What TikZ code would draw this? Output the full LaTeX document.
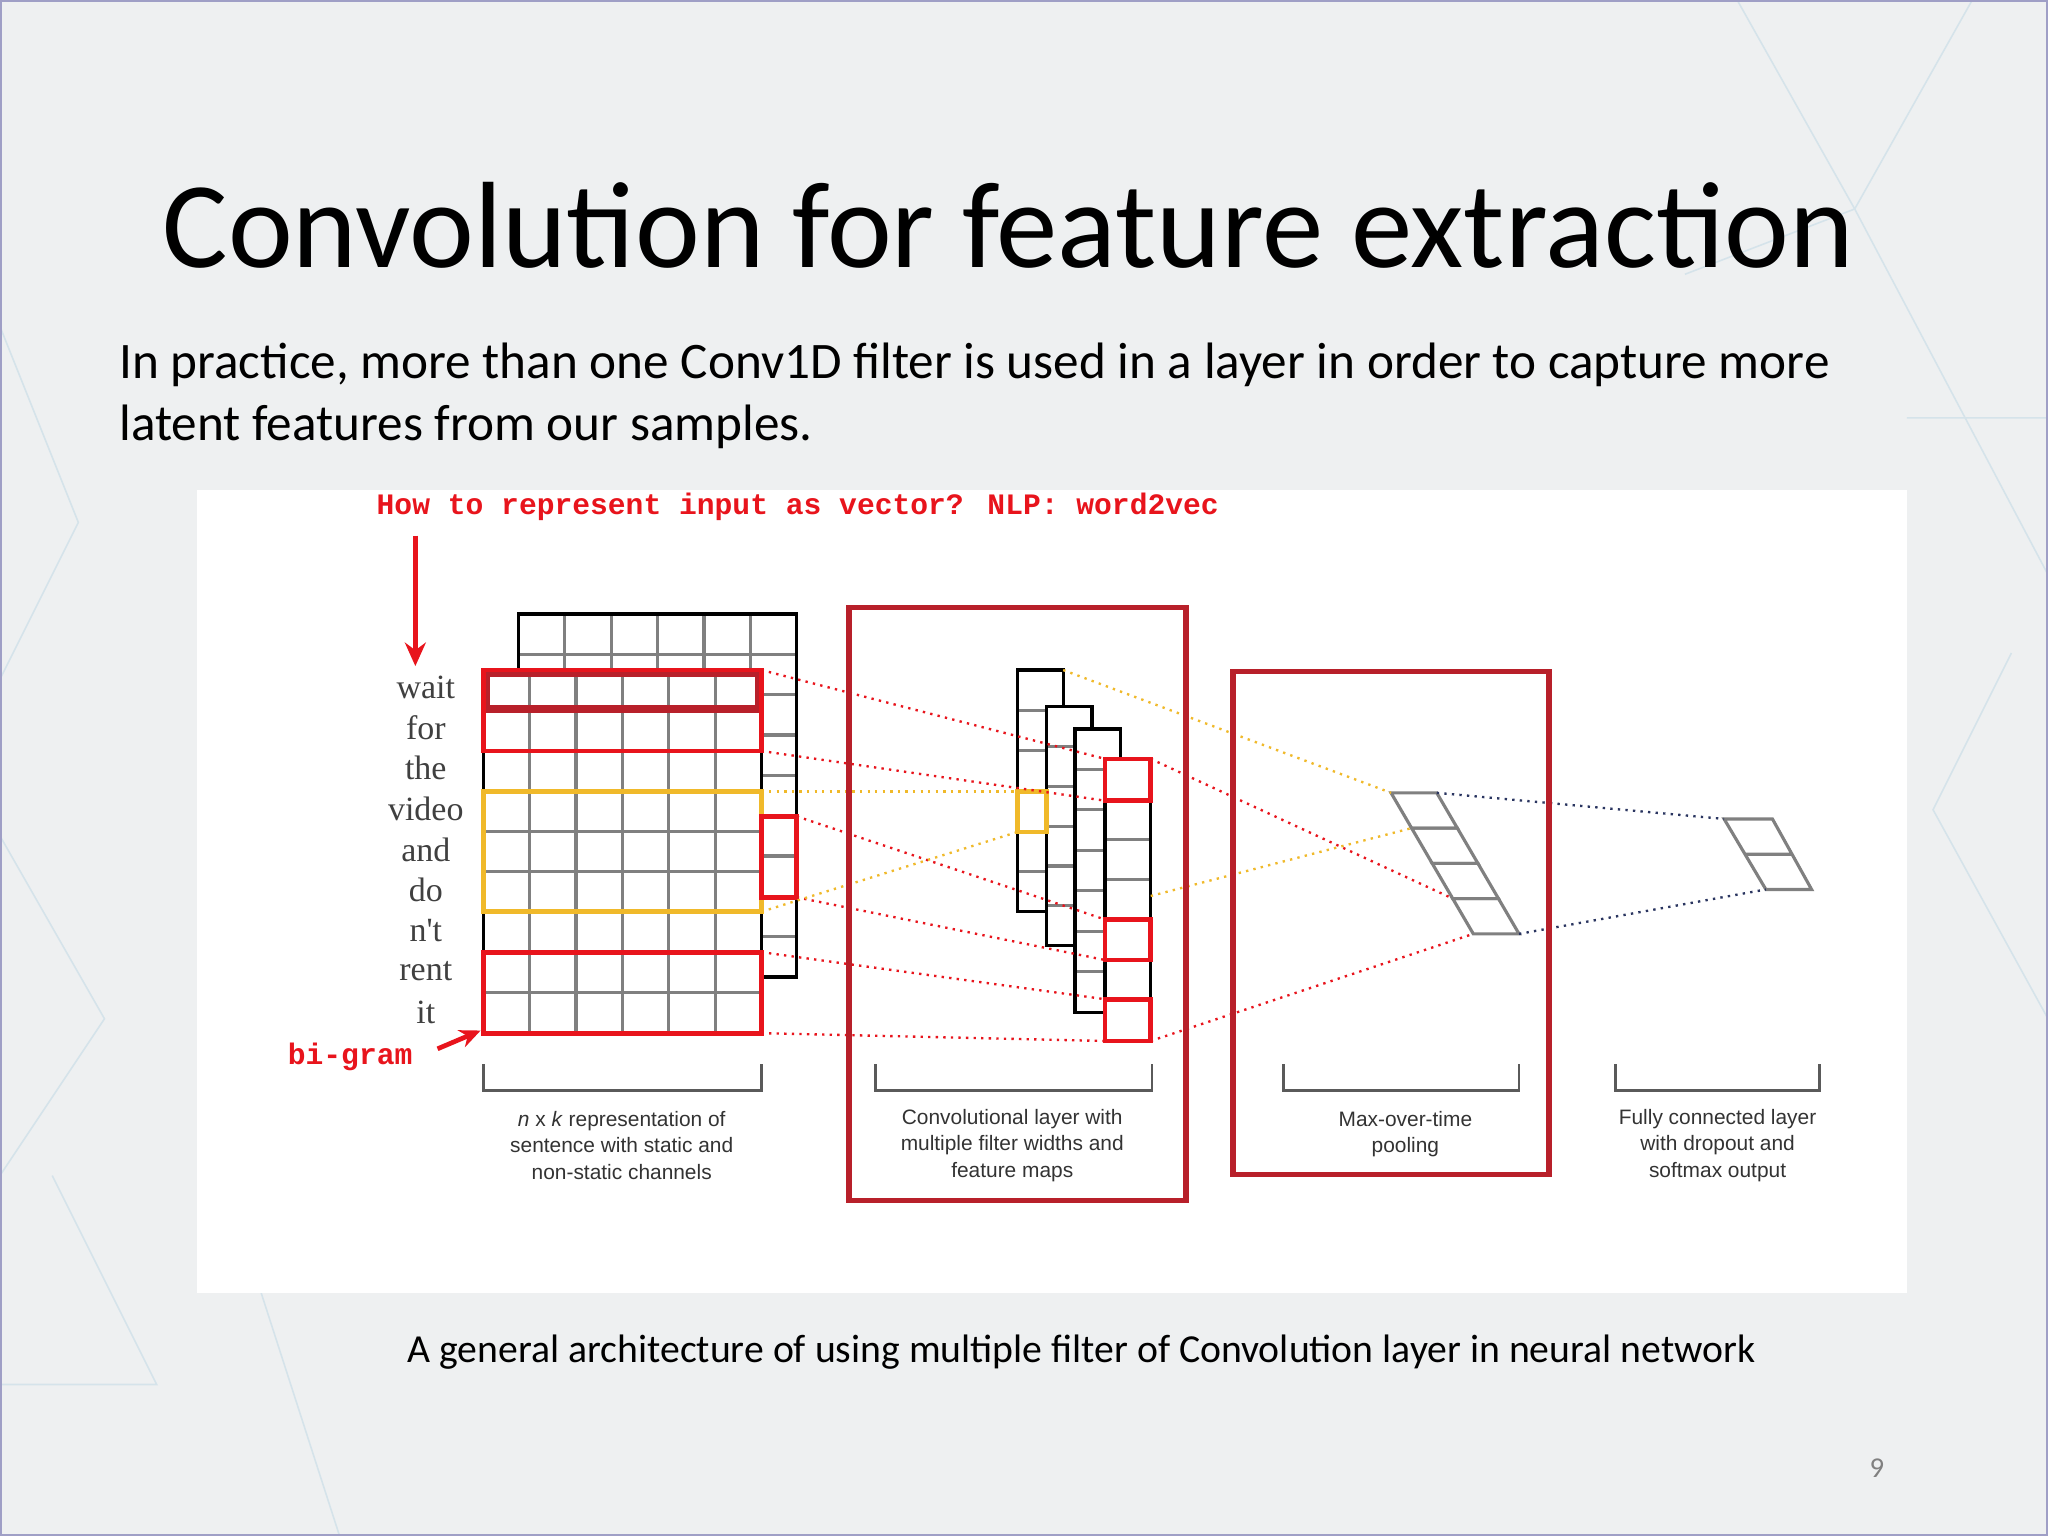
\documentclass[tikz,border=0pt]{standalone}
\usepackage{fontspec}
\usetikzlibrary{arrows.meta}
\setmainfont{Carlito}
\newfontfamily\lsans{Liberation Sans}
\newfontfamily\lserif{Liberation Serif}
\newfontfamily\lmono{Liberation Mono}
\definecolor{bg}{HTML}{EEF0F1}
\definecolor{dred}{HTML}{B8202A}
\definecolor{rred}{HTML}{E8141C}
\definecolor{yel}{HTML}{F0B92A}
\definecolor{navy}{HTML}{2A3560}
\definecolor{gline}{HTML}{808080}
\definecolor{tri}{HTML}{D5E3EA}
\tikzset{
 grid/.style={gline,line width=1.2pt},
 blk/.style={black,line width=1.3pt},
 redbox/.style={rred,line width=1.8pt},
 bigbox/.style={dred,line width=2pt},
 rdot/.style={rred,dotted,line width=0.9pt},
 ydot/.style={yel,dotted,line width=0.9pt},
 ndot/.style={navy,dotted,line width=0.9pt},
 brk/.style={gline!70!black,line width=1.1pt},
 lab/.style={font=\lsans\fontsize{8}{10}\selectfont,text=black!80,align=center},
 word/.style={font=\lserif\fontsize{13}{14}\selectfont,text=black!75},
}
\begin{document}
\begin{tikzpicture}[x=0.5pt,y=-0.5pt]
\useasboundingbox (0,0) rectangle (1568,1176);
\fill[bg] (0,0) rectangle (1568,1176);
\begin{scope}[tri,line width=0.6pt]
\draw (1330,0)--(1420,160)--(1510,0) (1290,210)--(1420,160)--(1568,440) (1460,320)--(1568,320) (1540,500)--(1480,620)--(1568,780);
\draw (0,250)--(60,400)--(0,520) (0,640)--(80,780)--(0,900) (40,900)--(120,1060)--(0,1060) (200,990)--(260,1176);
\end{scope}
\draw[blue!25!gray!60,line width=0.8pt] (0.5,0.5) rectangle (1567.5,1175.5);
\fill[white] (151,375) rectangle (1460,990);

\node[anchor=base,inner sep=0,font=\fontsize{47}{52}\selectfont] (title) at (772,205) {Convolution for feature extraction};
\node[anchor=base west,inner sep=0,font=\fontsize{19.6}{24}\selectfont] (l1) at (91,290) {In practice, more than one Conv1D filter is used in a layer in order to capture more};
\node[anchor=base west,inner sep=0,font=\fontsize{19.6}{24}\selectfont] (l2) at (91,337) {latent features from our samples.};
\node[anchor=base,inner sep=0,font=\fontsize{15.2}{18}\selectfont] (cap) at (828,1043) {A general architecture of using multiple filter of Convolution layer in neural network};
\node[anchor=base,font=\fontsize{11}{12}\selectfont,text=gray] (pg) at (1437,1131) {9};

% back grid
\fill[white] (397,470) rectangle (610,748);
\foreach \i in {1,...,5} \draw[grid] (397+35.5*\i,470)--(397+35.5*\i,513);
\foreach \r in {1,...,8} \draw[grid] (397,470+30.9*\r)--(610,470+30.9*\r);
\draw[blk] (397,513)--(397,470)--(610,470)--(610,748)--(583,748);
% front grid
\fill[white] (370,513) rectangle (583,791);
\foreach \i in {1,...,5} \draw[grid] (370+35.5*\i,513)--(370+35.5*\i,791);
\foreach \r in {1,...,8} \draw[grid] (370,513+30.9*\r)--(583,513+30.9*\r);
\draw[blk] (370,513) rectangle (583,791);
% highlight boxes
\draw[dred,line width=3pt] (372,515) rectangle (581,543);
\draw[redbox] (370,513) rectangle (583,575);
\draw[yel,line width=1.8pt] (370,606) rectangle (583,698);
\draw[redbox] (370,729) rectangle (583,791);
\draw[redbox] (583,625) rectangle (610,687);
\coordinate (a1) at (583,513); \coordinate (a2) at (583,575); \coordinate (a3) at (610,625);
\coordinate (a4) at (610,687); \coordinate (a5) at (583,729); \coordinate (a6) at (583,791);
\coordinate (y1) at (583,606); \coordinate (y2) at (583,698);

% words
\foreach \w [count=\k] in {wait,for,the,video,and,do,n't,rent,it}
  \node[word] (w\k) at (326,526+31.1*\k-31.1) {\w};

% annotations
\node[anchor=base west,inner sep=0,font=\lmono\bfseries\fontsize{11.35}{12}\selectfont,text=rred] (ann) at (288,394) {How to represent input as vector? NLP: word2vec};
\coordinate (ar1) at (318,410); \coordinate (ar2) at (318,510);
\draw[rred,line width=1.8pt,-{Stealth[length=9pt,width=8pt]}] (ar1)--(ar2);
\node[anchor=base west,inner sep=0,font=\lmono\bfseries\fontsize{11.35}{12}\selectfont,text=rred] (bg) at (220,815) {bi-gram};
\coordinate (br1) at (335,803); \coordinate (br2) at (368,789);
\draw[rred,line width=1.8pt,-{Stealth[length=8pt,width=7pt]}] (br1)--(br2);

% feature maps
\foreach \x/\t/\b/\n in {779/513/698/6,801/541/724/6,823/558/775/7}{
  \fill[white] (\x,\t) rectangle (\x+35,\b);
  \foreach \r in {1,...,\n} \pgfmathsetmacro{\yy}{\t+(\b-\t)/(\n)*\r} \draw[grid] (\x,\yy)--(\x+22,\yy);
  \draw[blk] (\x,\t) rectangle (\x+35,\b);
}
\fill[white] (846,581) rectangle (881,797);
\foreach \r in {1,...,6} \draw[grid] (846,581+30.86*\r)--(881,581+30.86*\r);
\draw[blk] (846,581) rectangle (881,797);
\draw[redbox] (846,581) rectangle (881,613);
\draw[redbox] (846,704) rectangle (881,735);
\draw[redbox] (846,765) rectangle (881,797);
\draw[yel,line width=1.8pt] (779,606) rectangle (801,637);
\coordinate (f1) at (846,581); \coordinate (f2) at (846,613); \coordinate (f3) at (846,704);
\coordinate (f4) at (846,735); \coordinate (f5) at (846,765); \coordinate (f6) at (846,797);
\coordinate (fy1) at (779,606); \coordinate (fy2) at (779,637);
\draw[rdot] (a1)--(f1); \draw[rdot] (a2)--(f2); \draw[rdot] (a3)--(f3);
\draw[rdot] (a4)--(f4); \draw[rdot] (a5)--(f5); \draw[rdot] (a6)--(f6);
\draw[ydot] (y1)--(fy1); \draw[ydot] (y2)--(fy2);

% pooling
\foreach \r in {0,...,3}
  \draw[grid] (1065+15.75*\r,607+27*\r) -- (1100+15.75*\r,607+27*\r) -- (1115.75+15.75*\r,634+27*\r) -- (1080.75+15.75*\r,634+27*\r) -- cycle;
\coordinate (p0) at (1065,607); \coordinate (p1) at (1080.75,634); \coordinate (p3) at (1112.25,688);
\coordinate (p4) at (1128,715); \coordinate (pt) at (1100,607); \coordinate (pb) at (1163,715);
\draw[ydot] (814,513)--(p0); \draw[ydot] (881,686)--(p1);
\draw[rdot] (881,581)--(p3); \draw[rdot] (881,797)--(p4);
% output
\draw[grid] (1320,627)--(1357,627)--(1387,681)--(1352,681)--cycle (1336,654)--(1372,654);
\draw[ndot] (pt)--(1320,627); \draw[ndot] (pb)--(1352,681);

% big boxes
\draw[bigbox] (650,465) rectangle (908,919);
\draw[bigbox] (944,514) rectangle (1186,899);

% brackets
\foreach \a/\b in {370/583,670/882,983/1163,1237/1393}
  \draw[brk] (\a,815)--(\a,835)--(\b,835)--(\b,815);
\node[lab] (t1) at (476,877) {\textit{n} x \textit{k} representation of\\sentence with static and\\non-static channels};
\node[lab] (t2) at (775,877) {Convolutional layer with\\multiple filter widths and\\feature maps};
\node[lab] (t3) at (1076,868) {Max-over-time\\pooling};
\node[lab] (t4) at (1315,877) {Fully connected layer\\with dropout and\\softmax output};
\end{tikzpicture}
\end{document}
